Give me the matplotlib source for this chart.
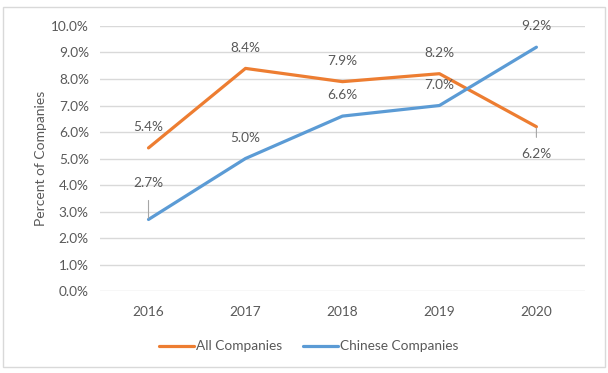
import numpy as np
import matplotlib.pyplot as plt
from matplotlib.patches import Rectangle

years = ["2016", "2017", "2018", "2019", "2020"]
all_companies = [5.4, 8.4, 7.9, 8.2, 6.2]
chinese_companies = [2.7, 5.0, 6.6, 7.0, 9.2]

# label offsets (points) for each data label, leader line where Excel drew one
all_offsets = [(0, 15), (0, 15), (0, 15), (0, 15), (0, -20)]
chn_offsets = [(0, 26), (0, 15), (0, 15), (0, 15), (0, 15)]

plt.rcParams['font.family'] = ['Lato', 'DejaVu Sans']
txt = "#595959"
orange = "#ED7D31"
blue = "#5B9BD5"

fig = plt.figure(figsize=(6.08, 3.73), dpi=100)
ax = fig.add_axes([0.1645, 0.2198, 0.7975, 0.7105])

x = np.arange(len(years))
ax.plot(x, all_companies, color=orange, lw=2.3, label="All Companies", solid_capstyle="round")
ax.plot(x, chinese_companies, color=blue, lw=2.3, label="Chinese Companies", solid_capstyle="round")

def labels(vals, offs):
    for i, (v, o) in enumerate(zip(vals, offs)):
        lead = abs(o[1]) > 19
        ax.annotate(f"{v:.1f}%", (i, v), xytext=o, textcoords="offset points",
                    ha="center", va="center", fontsize=9.8, color=txt,
                    arrowprops=dict(arrowstyle="-", color="#a6a6a6", lw=0.8,
                                    shrinkA=6, shrinkB=1) if lead else None)

labels(all_companies, all_offsets)
labels(chinese_companies, chn_offsets)

ax.set_xlim(-0.5, 4.5)
ax.set_ylim(0, 10)
ax.set_yticks(np.arange(0, 10.01, 1))
ax.set_yticklabels([f"{t:.1f}%" for t in np.arange(0, 10.01, 1)])
ax.set_xticks(x)
ax.set_xticklabels(years)
ax.tick_params(length=0, labelsize=9.8, colors=txt, pad=8)
ax.tick_params(axis="x", pad=11)
ax.grid(axis="y", color="#d9d9d9", lw=1)
ax.set_axisbelow(True)
for s in ax.spines.values():
    s.set_visible(False)

ax.set_ylabel("Percent of Companies", fontsize=10, color=txt, labelpad=3)

ax.legend(loc="upper center", bbox_to_anchor=(0.43, -0.14), ncol=2, frameon=False,
          fontsize=9.8, labelcolor=txt, handlelength=2.6, handletextpad=0.15, columnspacing=1.5)

fig.patches.append(Rectangle((0.005, 0.015), 0.99, 0.965, transform=fig.transFigure,
                             fill=False, edgecolor="#d9d9d9", lw=1))

fig.savefig("out.png", dpi=100)
